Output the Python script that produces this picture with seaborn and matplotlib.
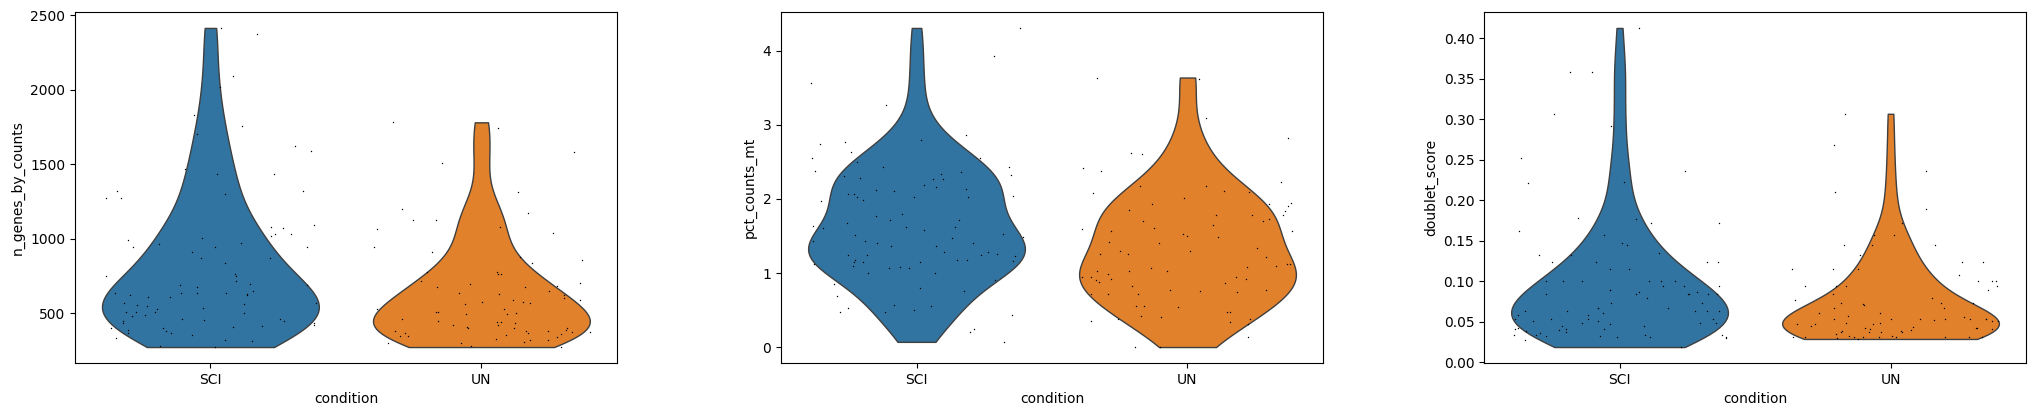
import numpy as np
import pandas as pd
import matplotlib
matplotlib.use("Agg")
import matplotlib.pyplot as plt
import seaborn as sns

# Categories
conditions = ["SCI", "UN"]
palette = ["#1f77b4", "#ff7f0e"]

# n_genes_by_counts per cell
genes_sci = [2414, 2370, 2094, 2018, 1832, 1758, 1705, 1620, 1586, 1470, 1436, 1436,
             1302, 1322, 1322, 1273, 1273, 1071, 1078, 1031, 1091, 1031, 1004, 1017,
             993, 970, 943, 943, 943, 914, 963, 869, 869, 836, 751, 751, 762, 718,
             690, 695, 688, 679, 652, 634, 628, 623, 607, 623, 612, 639, 639, 634,
             567, 567, 551, 556, 563, 529, 534, 511, 507, 511, 500, 484, 489, 460,
             460, 451, 451, 437, 433, 455, 422, 406, 415, 399, 399, 388, 379, 366,
             366, 354, 337, 314, 321, 281, 274]
genes_un = [1781, 1743, 1581, 1508, 1311, 1199, 1172, 1127, 1127, 1078, 1064, 1037,
            943, 876, 914, 836, 858, 775, 762, 762, 775, 717, 702, 697, 684, 675,
            675, 650, 634, 623, 630, 601, 578, 572, 576, 590, 590, 563, 527, 527,
            507, 500, 507, 496, 493, 462, 451, 440, 440, 422, 433, 404, 410, 404,
            419, 399, 388, 381, 381, 381, 372, 366, 372, 366, 361, 350, 354, 350,
            339, 321, 325, 299, 299, 310, 281, 321, 274]

# pct_counts_mt per cell
mt_sci = [4.31, 3.93, 3.56, 3.27, 2.87, 2.77, 2.79, 2.74, 2.63, 2.56, 2.55, 2.50,
          2.43, 2.43, 2.36, 2.38, 2.31, 2.27, 2.27, 2.28, 2.33, 2.34, 2.19, 2.16,
          2.14, 2.12, 2.11, 2.07, 2.07, 2.04, 2.02, 2.02, 2.02, 1.99, 1.97, 1.80,
          1.77, 1.71, 1.72, 1.67, 1.64, 1.61, 1.62, 1.62, 1.58, 1.53, 1.49, 1.52,
          1.47, 1.43, 1.43, 1.40, 1.40, 1.37, 1.36, 1.28, 1.28, 1.26, 1.24, 1.24,
          1.24, 1.23, 1.17, 1.18, 1.16, 1.17, 1.15, 1.15, 1.15, 1.12, 1.10, 1.08,
          1.07, 1.07, 1.00, 1.00, 0.90, 0.85, 0.80, 0.69, 0.76, 0.57, 0.56, 0.53,
          0.48, 0.50, 0.47, 0.43, 0.24, 0.20, 0.07]
mt_un = [3.64, 3.62, 3.10, 2.82, 2.61, 2.62, 2.38, 2.42, 2.23, 2.11, 2.10, 2.17,
         2.17, 2.08, 2.01, 1.95, 1.93, 1.93, 1.90, 1.85, 1.84, 1.79, 1.79, 1.79,
         1.73, 1.70, 1.70, 1.65, 1.59, 1.61, 1.57, 1.57, 1.53, 1.50, 1.48, 1.40,
         1.42, 1.34, 1.30, 1.30, 1.25, 1.25, 1.21, 1.12, 1.12, 1.10, 1.08, 1.07,
         1.03, 1.03, 1.03, 0.98, 0.95, 0.95, 0.94, 0.92, 0.92, 0.90, 0.88, 0.87,
         0.82, 0.77, 0.76, 0.77, 0.75, 0.72, 0.72, 0.71, 0.56, 0.56, 0.54, 0.47,
         0.48, 0.42, 0.41, 0.38, 0.38, 0.35, 0.34, 0.31, 0.13, 0.00, 0.00]

# doublet_score per cell
dbl_sci = [0.413, 0.358, 0.358, 0.307, 0.292, 0.252, 0.236, 0.222, 0.223, 0.178,
           0.177, 0.172, 0.172, 0.162, 0.157, 0.147, 0.145, 0.135, 0.133, 0.133,
           0.124, 0.124, 0.124, 0.124, 0.115, 0.115, 0.074, 0.074, 0.067, 0.067,
           0.063, 0.100, 0.094, 0.100, 0.100, 0.100, 0.100, 0.100, 0.094, 0.094,
           0.089, 0.087, 0.087, 0.089, 0.084, 0.084, 0.084, 0.084, 0.084, 0.084,
           0.080, 0.067, 0.063, 0.061, 0.063, 0.063, 0.058, 0.063, 0.058, 0.054,
           0.054, 0.054, 0.051, 0.054, 0.051, 0.049, 0.049, 0.047, 0.049, 0.045,
           0.045, 0.043, 0.041, 0.041, 0.039, 0.041, 0.040, 0.037, 0.036, 0.034,
           0.034, 0.034, 0.034, 0.032, 0.033, 0.033, 0.031, 0.031, 0.030, 0.028,
           0.019]
dbl_un = [0.307, 0.268, 0.236, 0.210, 0.190, 0.157, 0.157, 0.172, 0.145, 0.145,
          0.145, 0.133, 0.124, 0.124, 0.115, 0.115, 0.115, 0.108, 0.100, 0.100,
          0.100, 0.094, 0.094, 0.094, 0.094, 0.089, 0.084, 0.079, 0.077, 0.074,
          0.074, 0.074, 0.071, 0.072, 0.067, 0.067, 0.061, 0.061, 0.057, 0.056,
          0.054, 0.054, 0.054, 0.054, 0.054, 0.054, 0.054, 0.052, 0.051, 0.051,
          0.049, 0.048, 0.049, 0.048, 0.047, 0.045, 0.044, 0.043, 0.043, 0.041,
          0.039, 0.039, 0.040, 0.043, 0.041, 0.037, 0.037, 0.037, 0.037, 0.035,
          0.033, 0.033, 0.032, 0.032, 0.032, 0.032, 0.031, 0.031, 0.031, 0.030,
          0.031, 0.032, 0.029]

panels = [
    ("n_genes_by_counts", genes_sci, genes_un),
    ("pct_counts_mt", mt_sci, mt_un),
    ("doublet_score", dbl_sci, dbl_un),
]

np.random.seed(0)  # jitter only
fig = plt.figure(figsize=(20.36, 4.16), dpi=100)
lefts = [0.0368, 0.3836, 0.7289]

for left, (key, sci, un) in zip(lefts, panels):
    ax = fig.add_axes([left, 0.1274, 0.2662, 0.8438])
    df = pd.DataFrame({
        "condition": ["SCI"] * len(sci) + ["UN"] * len(un),
        key: sci + un,
    })
    sns.violinplot(data=df, x="condition", y=key, hue="condition", order=conditions,
                   hue_order=conditions, palette=palette, cut=0, inner=None,
                   density_norm="width", linewidth=1, legend=False, ax=ax)
    sns.stripplot(data=df, x="condition", y=key, order=conditions, jitter=0.4,
                  size=1, color="black", ax=ax)
    ax.set_xlabel("condition")
    ax.set_ylabel(key)

plt.savefig("out.png", dpi=100)
